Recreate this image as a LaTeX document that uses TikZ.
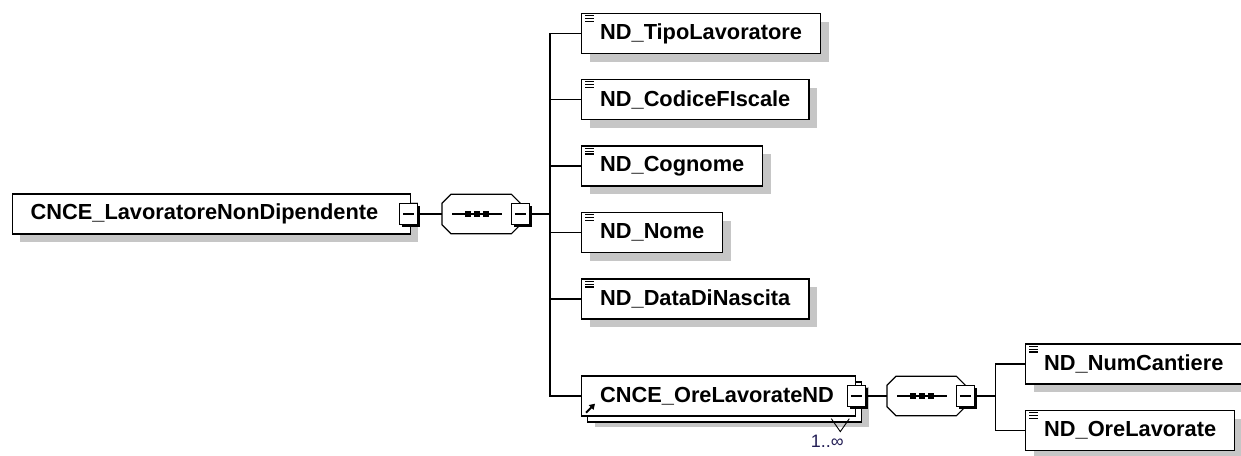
\documentclass[tikz,border=0pt]{standalone}
\usepackage{fontspec}
\setmainfont{Liberation Sans}
\usetikzlibrary{shadows,arrows.meta}
\definecolor{sgray}{RGB}{198,198,198}
\definecolor{multc}{RGB}{35,30,85}
\tikzset{
  conn/.style={draw=black, line width=1.3pt},
  elbox/.style={draw=black, line width=1.3pt, fill=white, anchor=west,
    minimum height=40pt, inner xsep=18.5pt, inner ysep=0pt,
    font=\fontsize{21.8}{24}\selectfont\bfseries,
    drop shadow={fill=sgray, opacity=1, shadow xshift=8pt, shadow yshift=-8pt}},
  stackbox/.style={draw=black, line width=1.3pt, fill=white, anchor=west,
    minimum height=40pt, inner xsep=18.5pt, inner ysep=0pt, align=left,
    font=\fontsize{21.8}{24}\selectfont\bfseries,
    drop shadow={fill=sgray, opacity=1, shadow xshift=13pt, shadow yshift=-11pt},
    copy shadow={fill=white, draw=black, line width=1.3pt, shadow xshift=6pt, shadow yshift=-6pt}},
  btn/.style={draw=black, line width=1.1pt, fill=white, minimum width=18pt,
    minimum height=21pt, inner sep=0pt,
    drop shadow={fill=black, opacity=1, shadow xshift=2.5pt, shadow yshift=-2.5pt},
    path picture={\draw[line width=1.1pt]
      ([xshift=3.5pt]path picture bounding box.west) --
      ([xshift=-3.5pt]path picture bounding box.east);}},
  octo/.style={minimum width=78pt, minimum height=39pt, inner sep=0pt, anchor=west},
  icon/.style={line width=1.1pt},
}
\newcommand{\octpath}[1]{([shift={(9,0)}]#1.north west) -- ([shift={(-9,0)}]#1.north east)
  -- ([shift={(0,9)}]#1.north east) -- ([shift={(0,-9)}]#1.south east)
  -- ([shift={(-9,0)}]#1.south east) -- ([shift={(9,0)}]#1.south west)
  -- ([shift={(0,-9)}]#1.south west) -- ([shift={(0,9)}]#1.north west) -- cycle}
\newcommand{\drawoct}[1]{%
  \fill[sgray, shift={(5,5)}] \octpath{#1};
  \filldraw[fill=white, draw=black, line width=1.2pt] \octpath{#1};
  \draw[line width=1.1pt] ([xshift=10pt]#1.west) -- ([xshift=60pt]#1.west);
  \foreach \dx in {26,35,44}
    \fill ([xshift=\dx pt]#1.west) +(-2.6,-2.6) rectangle +(2.6,2.6);
}
\begin{document}
\begin{tikzpicture}[x=1pt,y=-1pt]
\useasboundingbox (0,0) rectangle (1241,455);

% root
\node[elbox, text width=361pt, align=left] (root) at (11.5,214) {CNCE\_LavoratoreNonDipendente};
\node[btn] (b1) at ([xshift=-2pt]root.east) {};

% first sequence
\node[octo] (oct1) at (442,214) {};
\drawoct{oct1}
\node[btn] (b2) at (oct1.east) {};
\coordinate (bus1) at (550,214);

% children
\node[elbox] (tipo) at (581,33.5) {ND\_TipoLavoratore};
\node[elbox] (codice) at (581,99.5) {ND\_CodiceFIscale};
\node[elbox] (cognome) at (581,166) {ND\_Cognome};
\node[elbox] (nome) at (581,232.5) {ND\_Nome};
\node[elbox] (nascita) at (581,299) {ND\_DataDiNascita};
\node[stackbox, text width=237pt] (ore) at (581,396) {CNCE\_OreLavorateND};
\node[btn] (b3) at (ore.east) {};

% second sequence
\node[octo] (oct2) at (887,396) {};
\drawoct{oct2}
\node[btn] (b4) at (oct2.east) {};
\coordinate (bus2) at (995.5,396);
\node[elbox] (cant) at (1025,364) {ND\_NumCantiere};
\node[elbox] (orel) at (1025,430.5) {ND\_OreLavorate};

% connectors
\draw[conn] (b1.east) -- (oct1.west);
\draw[conn] (b2.east) -- (bus1);
\foreach \c in {tipo,codice,cognome,nome,nascita,ore}
  \draw[conn] (bus1) |- (\c.west);
\draw[conn] (b3.east) -- (oct2.west);
\draw[conn] (b4.east) -- (bus2);
\foreach \c in {cant,orel}
  \draw[conn] (bus2) |- (\c.west);

% element icons
\foreach \n in {tipo,codice,cognome,nome,nascita,cant,orel}{
  \foreach \dy in {3,5.8,8.6}
    \draw[icon] ([shift={(4,\dy)}]\n.north west) -- ++(9,0);
}

% reference arrow in stacked box
\draw[line width=2pt, -{Triangle[length=5.5pt,width=6.5pt]}]
  ([shift={(5,-4)}]ore.south west) -- ++(9,-9);

% multiplicity marker
\draw[line width=0.9pt] ([shift={(-25,2)}]ore.south east) -- ++(9,13) -- ++(9,-13);
\node[font=\fontsize{18}{20}\selectfont, text=multc, anchor=base, inner sep=0pt] (mult)
  at ([shift={(-29,31)}]ore.south east) {1..∞};
\end{tikzpicture}
\end{document}
